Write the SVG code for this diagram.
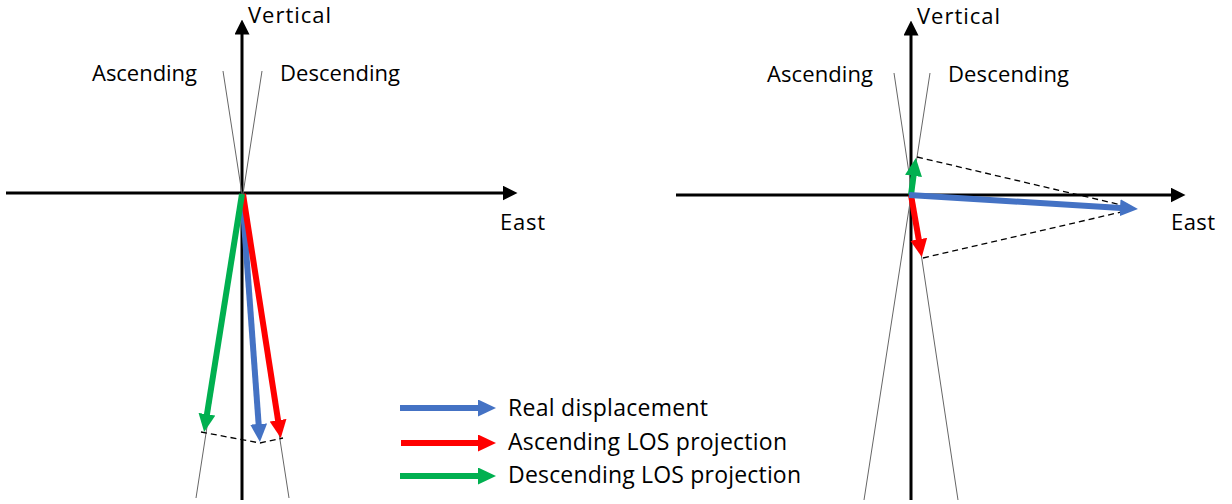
<svg xmlns="http://www.w3.org/2000/svg" width="1232" height="504" viewBox="0 0 1232 504">
  <style>
    text { font-family: "Open Sans", "Liberation Sans", sans-serif; font-size: 22px; fill: #000; }
    .key { font-size: 23px; }
    .axis { stroke: #000; stroke-width: 3; fill: none; }
    .los { stroke: #666; stroke-width: 1; fill: none; }
    .dash { stroke: #000; stroke-width: 1.3; stroke-dasharray: 6 4; fill: none; }
    .vec { stroke-width: 6; fill: none; stroke-linecap: butt; }
    .blue { stroke: #4472C4; }
    .red { stroke: #FF0000; }
    .green { stroke: #00B050; }
  </style>
  <defs>
    <marker id="axHead" markerUnits="userSpaceOnUse" viewBox="0 -7.5 15 15" markerWidth="15" markerHeight="15" refX="0.5" refY="0" orient="auto">
      <path d="M0,-7.5 L15,0 L0,7.5 Z" fill="#000"/>
    </marker>
    <marker id="headBlue" markerUnits="userSpaceOnUse" viewBox="0 -8.5 18 17" markerWidth="18" markerHeight="17" refX="1" refY="0" orient="auto">
      <path d="M0,-8.5 L18,0 L0,8.5 Z" fill="#4472C4"/>
    </marker>
    <marker id="headRed" markerUnits="userSpaceOnUse" viewBox="0 -8.5 18 17" markerWidth="18" markerHeight="17" refX="1" refY="0" orient="auto">
      <path d="M0,-8.5 L18,0 L0,8.5 Z" fill="#FF0000"/>
    </marker>
    <marker id="headGreen" markerUnits="userSpaceOnUse" viewBox="0 -8.5 18 17" markerWidth="18" markerHeight="17" refX="1" refY="0" orient="auto">
      <path d="M0,-8.5 L18,0 L0,8.5 Z" fill="#00B050"/>
    </marker>
  </defs>

  <!-- Left panel: small horizontal motion -->
  <g id="left-panel">
    <g id="left-axes">
      <line class="axis" x1="6" y1="193" x2="503" y2="193" marker-end="url(#axHead)"/>
      <line class="axis" x1="242" y1="500" x2="242" y2="34" marker-end="url(#axHead)"/>
    </g>
    <g id="left-los-lines">
      <line class="los" x1="223" y1="71" x2="289" y2="498"/>
      <line class="los" x1="262" y1="71" x2="196" y2="498"/>
    </g>
    <g id="left-labels">
      <text x="248" y="23" textLength="83" lengthAdjust="spacing">Vertical</text>
      <text x="92" y="81" textLength="105" lengthAdjust="spacing">Ascending</text>
      <text x="280" y="81" textLength="120" lengthAdjust="spacing">Descending</text>
      <text x="500" y="230" textLength="45" lengthAdjust="spacing">East</text>
    </g>
    <g id="left-vectors">
      <polyline class="dash" points="201,432 260,443 283,438"/>
      <line class="vec blue" x1="242" y1="194" x2="258.7" y2="425" marker-end="url(#headBlue)"/>
      <line class="vec red" x1="243" y1="194" x2="278.2" y2="421.2" marker-end="url(#headRed)"/>
      <line class="vec green" x1="242" y1="194" x2="206.8" y2="415.2" marker-end="url(#headGreen)"/>
    </g>
  </g>

  <!-- Right panel: dominant eastward motion -->
  <g id="right-panel">
    <g id="right-axes">
      <line class="axis" x1="676" y1="195" x2="1171" y2="195" marker-end="url(#axHead)"/>
      <line class="axis" x1="911" y1="500" x2="911" y2="35" marker-end="url(#axHead)"/>
    </g>
    <g id="right-los-lines">
      <line class="los" x1="894" y1="73" x2="958" y2="500"/>
      <line class="los" x1="930" y1="73" x2="864" y2="500"/>
    </g>
    <g id="right-labels">
      <text x="917" y="24" textLength="83" lengthAdjust="spacing">Vertical</text>
      <text x="767" y="82" textLength="106" lengthAdjust="spacing">Ascending</text>
      <text x="948" y="82" textLength="121" lengthAdjust="spacing">Descending</text>
      <text x="1171" y="230" textLength="44" lengthAdjust="spacing">East</text>
    </g>
    <g id="right-vectors">
      <line class="dash" x1="917" y1="157" x2="1130" y2="207"/>
      <line class="dash" x1="923" y1="258" x2="1130" y2="210"/>
      <line class="vec red" x1="911" y1="195" x2="918.9" y2="240.3" marker-end="url(#headRed)"/>
      <line class="vec green" x1="911" y1="195" x2="913.65" y2="174.9" marker-end="url(#headGreen)"/>
      <line class="vec blue" x1="909" y1="195" x2="1121" y2="207.9" marker-end="url(#headBlue)"/>
    </g>
  </g>

  <!-- Legend -->
  <g id="legend">
    <g id="legend-real">
      <line class="vec blue" x1="400" y1="408" x2="479" y2="408" marker-end="url(#headBlue)"/>
      <text class="key" x="508" y="416" textLength="200" lengthAdjust="spacing">Real displacement</text>
    </g>
    <g id="legend-asc">
      <line class="vec red" x1="401" y1="443" x2="479" y2="443" marker-end="url(#headRed)"/>
      <text class="key" x="508" y="450" textLength="279" lengthAdjust="spacing">Ascending LOS projection</text>
    </g>
    <g id="legend-desc">
      <line class="vec green" x1="400" y1="476" x2="479" y2="476" marker-end="url(#headGreen)"/>
      <text class="key" x="508" y="483" textLength="293" lengthAdjust="spacing">Descending LOS projection</text>
    </g>
  </g>
</svg>
